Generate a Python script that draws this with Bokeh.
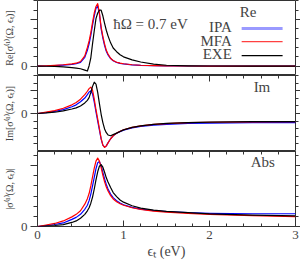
from bokeh.plotting import figure
from bokeh.layouts import column
from bokeh.models import (Range1d, LinearAxis, FixedTicker, SingleIntervalTicker,
                          Label, Arrow)
from bokeh.embed import file_html
from bokeh.resources import INLINE

# ---------------- data ----------------
eps_t = [0, 0.1, 0.2, 0.3, 0.4, 0.45, 0.5, 0.55, 0.58, 0.6, 0.62, 0.64, 0.66, 0.68,
         0.70, 0.72, 0.74, 0.76, 0.78, 0.80, 0.82, 0.85, 0.88, 0.92, 0.96, 1.0,
         1.1, 1.2, 1.35, 1.5, 1.75, 2.0, 2.5, 3.0]

re_ipa = [0, 0.02, 0.06, 0.12, 0.2, 0.27, 0.4, 0.95, 1.7, 2.4, 3.3, 4.4, 5.4, 6.2,
          6.45, 5.6, 4.0, 3.0, 2.2, 1.6, 1.2, 0.82, 0.58, 0.4, 0.3, 0.24,
          0.14, 0.09, 0.05, 0.03, 0.02, 0.01, 0.0, 0.0]
re_mfa = [0, 0.03, 0.08, 0.15, 0.25, 0.32, 0.5, 1.1, 2.0, 2.7, 3.6, 4.7, 5.7, 6.4,
          6.7, 5.7, 4.2, 3.2, 2.4, 1.7, 1.3, 0.85, 0.6, 0.42, 0.32, 0.26,
          0.15, 0.1, 0.06, 0.04, 0.02, 0.01, 0.0, 0.0]
re_exe = [0, -0.01, -0.03, -0.07, -0.15, -0.2, -0.28, -0.42, -0.52, 0.05, 0.9, 2.4, 3.8, 5.1,
          5.7, 6.0, 6.0, 5.4, 4.6, 3.85, 3.25, 2.5, 1.95, 1.55, 1.22, 1.0,
          0.68, 0.45, 0.22, 0.1, 0.04, 0.02, 0.01, 0.0]

im_ipa = [0, 0.12, 0.28, 0.52, 0.9, 1.15, 1.55, 2.05, 2.5, 2.85, 3.0, 2.6, 1.5, 0.2,
          -1.0, -2.2, -3.4, -4.2, -4.45, -4.3, -3.9, -3.35, -2.97, -2.63, -2.4, -2.2,
          -1.9, -1.72, -1.55, -1.43, -1.32, -1.27, -1.22, -1.2]
im_mfa = [0, 0.18, 0.38, 0.7, 1.15, 1.45, 1.9, 2.5, 2.95, 3.3, 3.5, 3.1, 1.9, 0.5,
          -0.7, -2.0, -3.3, -4.2, -4.5, -4.3, -3.9, -3.35, -2.95, -2.6, -2.35, -2.15,
          -1.85, -1.65, -1.45, -1.33, -1.22, -1.16, -1.1, -1.07]
im_exe = [0, 0.07, 0.17, 0.35, 0.6, 0.75, 1.0, 1.4, 1.75, 2.1, 2.8, 3.6, 4.15, 3.9,
          2.8, 1.3, -0.1, -1.2, -2.05, -2.55, -2.85, -2.95, -2.8, -2.6, -2.38, -2.17,
          -1.85, -1.64, -1.44, -1.32, -1.2, -1.14, -1.09, -1.07]

abs_ipa = [0, 0.1, 0.2, 0.35, 0.7, 0.9, 1.2, 1.7, 2.1, 2.55, 3.2, 4.0, 4.85, 5.7,
           6.3, 6.42, 6.0, 5.35, 4.7, 4.15, 3.7, 3.2, 2.85, 2.55, 2.32, 2.15,
           1.88, 1.72, 1.57, 1.47, 1.36, 1.3, 1.26, 1.26]
abs_mfa = [0, 0.15, 0.3, 0.55, 0.95, 1.2, 1.55, 2.2, 2.75, 3.25, 4.0, 4.9, 5.75, 6.45,
           6.75, 6.45, 5.8, 5.05, 4.4, 3.9, 3.5, 3.05, 2.72, 2.45, 2.25, 2.1,
           1.85, 1.68, 1.52, 1.42, 1.3, 1.2, 1.08, 0.98]
abs_exe = [0, 0.05, 0.1, 0.18, 0.4, 0.55, 0.82, 1.2, 1.55, 1.85, 2.3, 2.9, 3.7, 4.6,
           5.4, 5.95, 6.1, 5.85, 5.35, 4.8, 4.4, 3.85, 3.35, 2.95, 2.62, 2.4,
           2.05, 1.82, 1.62, 1.5, 1.36, 1.25, 1.13, 1.05]

series_names = ["IPA", "MFA", "EXE"]
series_colors = ["#0000ff", "#ff0000", "#000000"]
legend_colors = ["#9a9aff", "#ff4040", "#000000"]
legend_widths = [3, 1.2, 1.2]

FONT = "Liberation Serif"
AXC = "#333333"
FW = 258
LB = 29


def silent_labels(ax):
    ax.major_label_text_font_size = "1px"
    ax.major_label_text_color = None
    ax.major_label_text_alpha = 0
    ax.major_label_standoff = 0


def make_panel(height, yr, ticks, minor, overrides, ylabel, top_ticks, bottom):
    p = figure(frame_width=FW, frame_height=height, output_backend="svg",
               toolbar_location=None, x_axis_location=None, y_axis_location=None,
               x_range=Range1d(0, 3), y_range=Range1d(*yr),
               min_border_left=LB, min_border_right=1, min_border_top=0,
               min_border_bottom=0)
    p.grid.visible = False
    p.outline_line_color = AXC
    p.outline_line_width = 1
    p.background_fill_color = "white"
    p.border_fill_color = "white"

    yl = LinearAxis(ticker=FixedTicker(ticks=ticks, minor_ticks=minor),
                    major_label_overrides=overrides)
    yl.axis_label = ylabel
    yl.axis_label_text_font = FONT
    yl.axis_label_text_font_style = "normal"
    yl.axis_label_text_font_size = "10px"
    yl.axis_label_standoff = 3
    yl.major_label_text_font = FONT
    yl.major_label_text_font_size = "13px"
    yl.major_label_standoff = 3
    yl.major_tick_in = 0
    yl.major_tick_out = 7
    yl.minor_tick_in = 0
    yl.minor_tick_out = 4
    yl.axis_line_color = None
    yl.major_tick_line_color = AXC
    yl.minor_tick_line_color = AXC
    p.add_layout(yl, "left")

    yr_ax = LinearAxis(ticker=FixedTicker(ticks=ticks, minor_ticks=minor))
    silent_labels(yr_ax)
    yr_ax.major_tick_in = 0
    yr_ax.major_tick_out = 5
    yr_ax.minor_tick_in = 0
    yr_ax.minor_tick_out = 3
    yr_ax.axis_line_color = None
    yr_ax.major_tick_line_color = AXC
    yr_ax.minor_tick_line_color = AXC
    p.add_layout(yr_ax, "right")

    if top_ticks:
        xa = LinearAxis(ticker=SingleIntervalTicker(interval=1, num_minor_ticks=5))
        silent_labels(xa)
        xa.major_tick_in = 6
        xa.major_tick_out = 0
        xa.minor_tick_in = 3
        xa.minor_tick_out = 0
        xa.axis_line_color = None
        xa.major_tick_line_color = AXC
        xa.minor_tick_line_color = AXC
        p.add_layout(xa, "above")

    if bottom:
        xb = LinearAxis(ticker=SingleIntervalTicker(interval=1, num_minor_ticks=5))
        xb.axis_label = "ϵₜ (eV)"
        xb.axis_label_text_font = FONT
        xb.axis_label_text_font_style = "normal"
        xb.axis_label_text_font_size = "14px"
        xb.axis_label_standoff = 2
        xb.major_label_text_font = FONT
        xb.major_label_text_font_size = "13px"
        xb.major_label_standoff = 4
        xb.major_tick_in = 6
        xb.major_tick_out = 0
        xb.minor_tick_in = 3
        xb.minor_tick_out = 0
        xb.axis_line_color = None
        xb.major_tick_line_color = AXC
        xb.minor_tick_line_color = AXC
        p.add_layout(xb, "below")
    return p


p1 = make_panel(75, (-1.0, 7.04), [0, 5], [-1, 1, 2, 3, 4, 6, 7], {5: ""},
                "Re[σ⁽¹⁾(Ω, ϵₜ)]", False, False)
p2 = make_panel(76, (-5.04, 5.04), [0, 3], [-5, -4, -3, -2, -1, 1, 2, 4, 5], {3: ""},
                "Im[σ⁽¹⁾(Ω, ϵₜ)]", True, False)
p3 = make_panel(75, (0, 7.4), [0, 6], [1, 2, 3, 4, 5, 7], {6: ""},
                "|σ⁽¹⁾(Ω, ϵₜ)|", True, True)

for p, ys in ((p1, (re_ipa, re_mfa, re_exe)),
              (p2, (im_ipa, im_mfa, im_exe)),
              (p3, (abs_ipa, abs_mfa, abs_exe))):
    for y, c in zip(ys, series_colors):
        p.line(eps_t, y, line_color=c, line_width=1.2, line_join="round")

# panel titles / annotations
p1.add_layout(Label(x=0.88, y=4.57, text="ħΩ = 0.7 eV", text_align="left",
                    text_baseline="middle", text_font=FONT, text_font_size="15px"))
p1.add_layout(Label(x=2.45, y=5.84, text="Re", text_align="center",
                    text_baseline="middle", text_font=FONT, text_font_size="15px"))
p2.add_layout(Label(x=2.61, y=3.5, text="Im", text_align="center",
                    text_baseline="middle", text_font=FONT, text_font_size="15px"))
p3.add_layout(Label(x=2.62, y=6.36, text="Abs", text_align="center",
                    text_baseline="middle", text_font=FONT, text_font_size="15px"))

# legend (labels right-aligned, sample lines on the right)
leg_y_text = [4.15, 2.75, 1.29]
leg_y_line = [4.05, 2.64, 1.13]
for name, ct, cl, w, yt, yln in zip(series_names, series_colors, legend_colors,
                                     legend_widths, leg_y_text, leg_y_line):
    p1.add_layout(Label(x=2.26, y=yt, text=name, text_align="right",
                        text_baseline="middle", text_font=FONT, text_font_size="15px"))
    p1.add_layout(Arrow(end=None, x_start=2.374, y_start=yln, x_end=2.85, y_end=yln,
                        line_color=cl, line_width=w))

layout = column(p1, p2, p3, spacing=0)
open("out.html", "w").write(file_html(layout, INLINE))
